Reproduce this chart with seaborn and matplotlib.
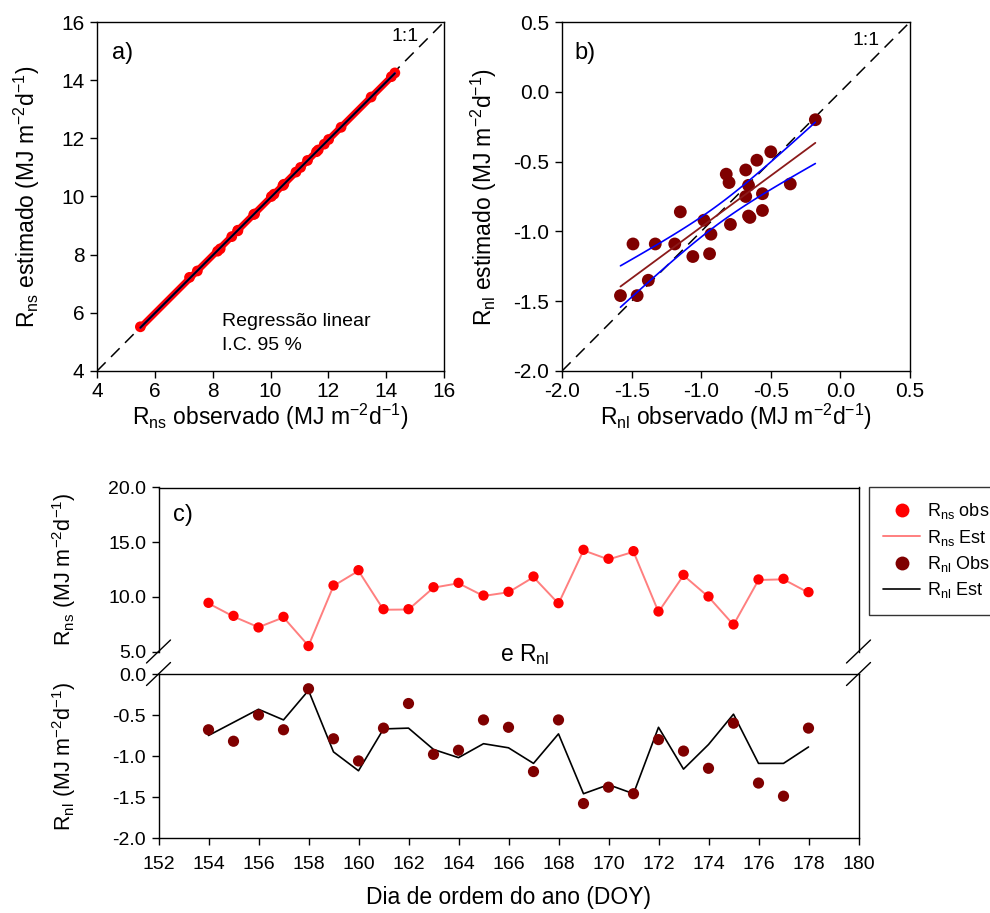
import numpy as np
import matplotlib
matplotlib.use("Agg")
import matplotlib.pyplot as plt
import seaborn as sns
from matplotlib.lines import Line2D
from matplotlib.ticker import FormatStrFormatter

# Day of year
doy = list(range(154, 179))

# Net shortwave radiation, observed and estimated (MJ m-2 d-1)
rns_obs = [9.45, 8.26, 7.20, 8.17, 5.50, 11.04, 12.44, 8.87, 8.87, 10.88, 11.28, 10.12, 10.46,
           11.86, 9.42, 14.30, 13.48, 14.18, 8.66, 12.01, 10.03, 7.47, 11.59, 11.65, 10.43]
rns_est = [9.40, 8.20, 7.22, 8.12, 5.52, 11.00, 12.38, 8.82, 8.84, 10.84, 11.24, 10.08, 10.42,
           11.80, 9.38, 14.25, 13.42, 14.12, 8.62, 11.96, 10.00, 7.44, 11.54, 11.60, 10.38]

# Net longwave radiation, observed and estimated (MJ m-2 d-1)
rnl_obs = [-0.68, -0.82, -0.50, -0.68, -0.18, -0.79, -1.06, -0.66, -0.36, -0.98, -0.93, -0.56, -0.65,
           -1.19, -0.56, -1.58, -1.38, -1.46, -0.80, -0.94, -1.15, -0.60, -1.33, -1.49, -0.66]
rnl_est = [-0.75, -0.59, -0.43, -0.56, -0.20, -0.95, -1.18, -0.67, -0.66, -0.92, -1.02, -0.85, -0.90,
           -1.09, -0.73, -1.46, -1.35, -1.46, -0.65, -1.16, -0.86, -0.49, -1.09, -1.09, -0.89]

ticks_a = [4, 6, 8, 10, 12, 14, 16]
ticks_b = [-2.0, -1.5, -1.0, -0.5, 0.0, 0.5]
ticks_doy = list(range(152, 181, 2))
ticks_rns = [5, 10, 15, 20]
ticks_rnl = [0.0, -0.5, -1.0, -1.5, -2.0]

sns.set_theme(style="white")
plt.rcParams["font.family"] = ["Liberation Sans", "DejaVu Sans"]
plt.rcParams["mathtext.default"] = "regular"
plt.rcParams["axes.unicode_minus"] = False
plt.rcParams["text.color"] = "black"
plt.rcParams["axes.labelcolor"] = "black"
plt.rcParams["xtick.color"] = "black"
plt.rcParams["ytick.color"] = "black"
plt.rcParams["xtick.labelcolor"] = "black"
plt.rcParams["ytick.labelcolor"] = "black"

RED = "#FF0000"
PINK = "#FF7F7F"
MAROON = "#7F0000"
FITRED = "#8B1A1A"
BLUE = "#0000FF"
DASH = (0, (8, 5))
LBL = 16.5

W, H = 990, 913
fig = plt.figure(figsize=(W / 100, H / 100), dpi=100)


def px_axes(left, top, right, bottom):
    return fig.add_axes([left / W, 1 - bottom / H, (right - left) / W, (bottom - top) / H])


def style(ax, size=15, xpad=3, ypad=4):
    for sp in ax.spines.values():
        sp.set_color("black")
        sp.set_linewidth(1.0)
    ax.tick_params(axis="both", which="both", direction="out", length=5, width=1,
                   color="black", labelcolor="black", labelsize=size,
                   bottom=True, left=True, top=False, right=False)
    ax.tick_params(axis="x", pad=xpad)
    ax.tick_params(axis="y", pad=ypad)


T95 = 2.069  # Student t, 23 degrees of freedom


def fit_bands(x, y, xs):
    x = np.asarray(x, float)
    y = np.asarray(y, float)
    n = len(x)
    b1, b0 = np.polyfit(x, y, 1)
    resid = y - (b0 + b1 * x)
    s = np.sqrt(np.sum(resid ** 2) / (n - 2))
    sxx = np.sum((x - x.mean()) ** 2)
    fit = b0 + b1 * xs
    half = T95 * s * np.sqrt(1 / n + (xs - x.mean()) ** 2 / sxx)
    return fit, fit - half, fit + half


unit = " (MJ m$^{-2}$d$^{-1}$)"

# ---------------- a) net shortwave ----------------
ax_a = px_axes(97, 22, 444, 371)
style(ax_a)
ax_a.plot([4, 16], [4, 16], color="black", lw=1.1, ls=DASH, zorder=1)
xs = np.linspace(min(rns_obs), max(rns_obs), 100)
fit, lo, hi = fit_bands(rns_obs, rns_est, xs)
sns.scatterplot(x=rns_obs, y=rns_est, ax=ax_a, color=RED, s=60, edgecolor="none", zorder=3)
sns.lineplot(x=xs, y=fit, ax=ax_a, color=RED, lw=5, zorder=2)
sns.lineplot(x=xs, y=lo, ax=ax_a, color=BLUE, lw=1.2, zorder=4)
sns.lineplot(x=xs, y=hi, ax=ax_a, color=BLUE, lw=1.2, zorder=4)
sns.lineplot(x=xs, y=fit, ax=ax_a, color="black", lw=1.3, zorder=5)
ax_a.set_xlim(4, 16)
ax_a.set_ylim(4, 16)
ax_a.set_xticks(ticks_a)
ax_a.set_yticks(ticks_a)
ax_a.set_xlabel("R$_{ns}$ observado" + unit, fontsize=LBL)
ax_a.set_ylabel("R$_{ns}$ estimado" + unit, fontsize=LBL)
ax_a.xaxis.set_label_coords(0.5, -0.088)
ax_a.yaxis.set_label_coords(-0.158, 0.5)
ax_a.text(0.043, 0.91, "a)", transform=ax_a.transAxes, fontsize=17, va="center", ha="left")
ax_a.text(14.2, 15.5, "1:1", fontsize=14, va="center", ha="left")
ax_a.text(0.36, 0.143, "Regressão linear", transform=ax_a.transAxes, fontsize=14, va="center")
ax_a.text(0.36, 0.074, "I.C. 95 %", transform=ax_a.transAxes, fontsize=14, va="center")

# ---------------- b) net longwave ----------------
ax_b = px_axes(562, 22, 910, 371)
style(ax_b)
ax_b.plot([-2, 0.5], [-2, 0.5], color="black", lw=1.1, ls=DASH, zorder=1)
xs = np.linspace(min(rnl_obs), max(rnl_obs), 100)
fit, lo, hi = fit_bands(rnl_obs, rnl_est, xs)
sns.scatterplot(x=rnl_obs, y=rnl_est, ax=ax_b, color=MAROON, s=85, edgecolor="none", zorder=2)
sns.lineplot(x=xs, y=fit, ax=ax_b, color=FITRED, lw=1.3, zorder=3)
sns.lineplot(x=xs, y=lo, ax=ax_b, color=BLUE, lw=1.2, zorder=3)
sns.lineplot(x=xs, y=hi, ax=ax_b, color=BLUE, lw=1.2, zorder=3)
ax_b.set_xlim(-2, 0.5)
ax_b.set_ylim(-2, 0.5)
ax_b.set_xticks(ticks_b)
ax_b.set_yticks(ticks_b)
ax_b.xaxis.set_major_formatter(FormatStrFormatter("%.1f"))
ax_b.yaxis.set_major_formatter(FormatStrFormatter("%.1f"))
ax_b.set_xlabel("R$_{nl}$ observado" + unit, fontsize=LBL)
ax_b.set_ylabel("R$_{nl}$ estimado" + unit, fontsize=LBL)
ax_b.xaxis.set_label_coords(0.5, -0.088)
ax_b.yaxis.set_label_coords(-0.18, 0.5)
ax_b.text(0.037, 0.91, "b)", transform=ax_b.transAxes, fontsize=17, va="center", ha="left")
ax_b.text(0.09, 0.37, "1:1", fontsize=14, va="center", ha="left")

# ---------------- c) daily series, broken axis ----------------
ax_c1 = px_axes(158.5, 487.5, 858.5, 651.5)
style(ax_c1, 14)
ax_c1.spines["bottom"].set_visible(False)
sns.lineplot(x=doy, y=rns_est, ax=ax_c1, color=PINK, lw=1.4, zorder=2)
sns.scatterplot(x=doy, y=rns_obs, ax=ax_c1, color=RED, s=55, edgecolor="none", zorder=3)
ax_c1.set_xlim(152, 180)
ax_c1.set_ylim(5, 20)
ax_c1.set_yticks(ticks_rns)
ax_c1.yaxis.set_major_formatter(FormatStrFormatter("%.1f"))
ax_c1.tick_params(axis="x", bottom=False, labelbottom=False)
ax_c1.set_ylabel("R$_{ns}$" + unit, fontsize=15.5)
ax_c1.yaxis.set_label_coords(-0.115, 0.5)
ax_c1.text(0.02, 0.83, "c)", transform=ax_c1.transAxes, fontsize=17, va="center", ha="left")

ax_c2 = px_axes(158.5, 674, 858.5, 838)
style(ax_c2, 14, xpad=8)
sns.lineplot(x=doy, y=rnl_est, ax=ax_c2, color="black", lw=1.2, zorder=2)
sns.scatterplot(x=doy, y=rnl_obs, ax=ax_c2, color=MAROON, s=65, edgecolor="none", zorder=3)
ax_c2.set_xlim(152, 180)
ax_c2.set_ylim(-2, 0)
ax_c2.set_xticks(ticks_doy)
ax_c2.set_yticks(ticks_rnl)
ax_c2.yaxis.set_major_formatter(FormatStrFormatter("%.1f"))
ax_c2.set_ylabel("R$_{nl}$" + unit, fontsize=15.5)
ax_c2.yaxis.set_label_coords(-0.115, 0.5)
ax_c2.set_xlabel("Dia de ordem do ano (DOY)", fontsize=LBL)
ax_c2.xaxis.set_label_coords(0.5, -0.29)

fig.text(525 / W, 1 - 655 / H, "e R$_{nl}$", fontsize=16.5, ha="center", va="center")

# axis-break marks
for bx in (158.5, 858.5):
    for by in (651.5, 674):
        fig.add_artist(Line2D([(bx - 12) / W, (bx + 12) / W],
                              [1 - (by + 11.5) / H, 1 - (by - 11.5) / H],
                              color="black", lw=1.0, transform=fig.transFigure))

# legend
handles = [
    Line2D([], [], ls="none", marker="o", ms=10, color=RED, markeredgecolor="none"),
    Line2D([], [], color=PINK, lw=1.4),
    Line2D([], [], ls="none", marker="o", ms=10, color=MAROON, markeredgecolor="none"),
    Line2D([], [], color="black", lw=1.2),
]
labels = ["R$_{ns}$ obs", "R$_{ns}$ Est", "R$_{nl}$ Obs", "R$_{nl}$ Est"]
leg = fig.legend(handles, labels, loc="upper left", bbox_to_anchor=(869 / W, 1 - 487 / H),
                 frameon=True, fancybox=False, fontsize=13, handlelength=2.0,
                 borderpad=0.8, labelspacing=0.35, handletextpad=0.4, borderaxespad=0)
leg.get_frame().set_edgecolor("black")
leg.get_frame().set_linewidth(1.0)
for t in leg.get_texts():
    t.set_color("black")

fig.savefig("out.png", dpi=100)
